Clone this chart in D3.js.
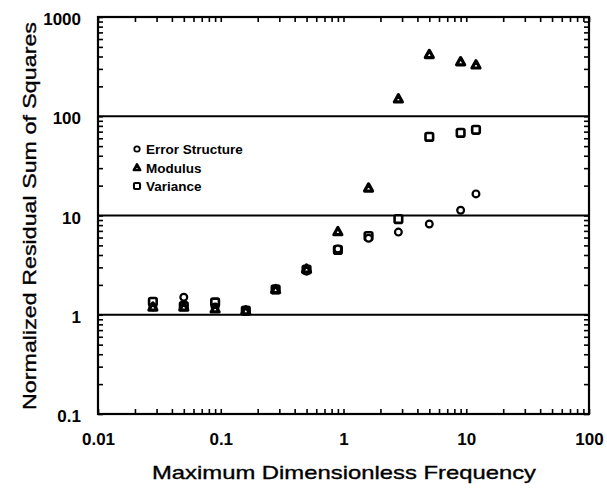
<!DOCTYPE html>
<html>
<head>
<meta charset="utf-8">
<script src="https://cdn.jsdelivr.net/npm/d3@7"></script>
<style>
    body { margin: 0; background: #fff; }
    svg { display: block; font-family: "Liberation Sans", Arial, sans-serif; }
</style>
</head>
<body>
<svg width="607" height="489"></svg>
<script>
// values
var frequency = [0.028, 0.05, 0.09, 0.16, 0.28, 0.5, 0.9, 1.6, 2.8, 5, 9, 12];
var errorStructure = [1.2, 1.5, 1.2, 1.1, 1.8, 2.75, 4.6, 5.9, 6.8, 8.2, 11.3, 16.5];
var modulus = [1.2, 1.2, 1.15, 1.1, 1.8, 2.9, 6.9, 19, 150, 420, 355, 330];
var variance = [1.35, 1.22, 1.33, 1.1, 1.8, 2.85, 4.5, 6.2, 9.2, 62, 68, 73];

var seriesNames = ["Error Structure", "Modulus", "Variance"];
var xTickValues = [0.01, 0.1, 1, 10, 100];
var yTickValues = [0.1, 1, 10, 100, 1000];
var gridValues = [1, 10, 100];

var plotLeft = 98, plotRight = 589, plotTop = 17, plotBottom = 414;

var xScale = d3.scaleLog([0.01, 100], [plotLeft, plotRight]);
var yScale = d3.scaleLog([0.1, 1000], [plotBottom, plotTop]);

var svg = d3.select("svg");

// horizontal grid lines at the decades
svg.append("g")
    .selectAll("line")
    .data(gridValues)
    .enter()
        .append("line")
        .attr("x1", plotLeft)
        .attr("x2", plotRight)
        .attr("y1", function(d) { return yScale(d); })
        .attr("y2", function(d) { return yScale(d); })
        .attr("stroke", "#000")
        .attr("stroke-width", 2.2);

// minor ticks on all four sides, pointing inward
function minorAxis(axis, transform) {
    var g = svg.append("g")
        .attr("transform", transform)
        .call(axis.tickSize(-5).tickFormat(""));
    g.select(".domain").remove();
    g.selectAll("line").attr("stroke", "#000").attr("stroke-width", 1.6);
}
minorAxis(d3.axisLeft(yScale).tickValues(yScale.ticks()), "translate(" + plotLeft + ",0)");
minorAxis(d3.axisRight(yScale).tickValues(yScale.ticks()), "translate(" + plotRight + ",0)");
minorAxis(d3.axisBottom(xScale).tickValues(xScale.ticks()), "translate(0," + plotBottom + ")");
minorAxis(d3.axisTop(xScale).tickValues(xScale.ticks()), "translate(0," + plotTop + ")");

// frame
svg.append("rect")
    .attr("x", plotLeft)
    .attr("y", plotTop)
    .attr("width", plotRight - plotLeft)
    .attr("height", plotBottom - plotTop)
    .attr("fill", "none")
    .attr("stroke", "#000")
    .attr("stroke-width", 2.2);

// tick labels
var yLabels = svg.append("g")
    .attr("transform", "translate(" + plotLeft + ",0)")
    .call(d3.axisLeft(yScale).tickValues(yTickValues).tickSize(0).tickPadding(17).tickFormat(d3.format("~g")));
var xLabels = svg.append("g")
    .attr("transform", "translate(0," + plotBottom + ")")
    .call(d3.axisBottom(xScale).tickValues(xTickValues).tickSize(0).tickPadding(19).tickFormat(d3.format("~g")));
[yLabels, xLabels].forEach(function(g) {
    g.select(".domain").remove();
    g.selectAll("text")
        .attr("fill", "#000")
        .style("font-family", "'Liberation Sans', Arial, sans-serif")
        .style("font-size", "17px")
        .style("font-weight", "bold");
});
yLabels.selectAll("text").attr("dy", "0.45em");

// axis titles
svg.append("text")
    .attr("transform", "translate(36," + ((22 + 410) / 2) + ") rotate(-90)")
    .attr("text-anchor", "middle")
    .attr("textLength", 388)
    .attr("lengthAdjust", "spacingAndGlyphs")
    .attr("stroke", "#000")
    .attr("stroke-width", 0.35)
    .style("font-size", "19px")
    .text("Normalized Residual Sum of Squares");

svg.append("text")
    .attr("x", 344)
    .attr("y", 479)
    .attr("text-anchor", "middle")
    .attr("textLength", 384)
    .attr("lengthAdjust", "spacingAndGlyphs")
    .attr("stroke", "#000")
    .attr("stroke-width", 0.35)
    .style("font-size", "19px")
    .text("Maximum Dimensionless Frequency");

// markers
function drawCircle(g) {
    g.append("circle").attr("r", 3.4)
        .attr("fill", "#fff").attr("stroke", "#000").attr("stroke-width", 2.2);
}
function drawTriangle(g) {
    g.append("path").attr("d", "M0,-4L4,3.2L-4,3.2Z")
        .attr("fill", "#fff").attr("stroke", "#000").attr("stroke-width", 3.2).attr("stroke-linejoin", "round");
}
function drawSquare(g) {
    g.append("rect").attr("x", -3.8).attr("y", -3.8).attr("width", 7.6).attr("height", 7.6).attr("rx", 1.5)
        .attr("fill", "#fff").attr("stroke", "#000").attr("stroke-width", 2.6);
}

function plotSeries(values, drawMarker) {
    svg.append("g")
        .selectAll("g")
        .data(values)
        .enter()
            .append("g")
            .attr("transform", function(d, i) {
                return "translate(" + xScale(frequency[i]) + "," + yScale(d) + ")";
            })
            .each(function() { drawMarker(d3.select(this)); });
}
plotSeries(variance, drawSquare);
plotSeries(errorStructure, drawCircle);
plotSeries(modulus, drawTriangle);

// legend
var markers = [drawCircle, drawTriangle, drawSquare];
var legend = svg.append("g").attr("transform", "translate(137,149)");
seriesNames.forEach(function(name, i) {
    var row = legend.append("g").attr("transform", "translate(0," + (i * 18.5) + ")");
    var m = row.append("g").attr("transform", "scale(0.8)");
    markers[i](m);
    row.append("text")
        .attr("x", 9)
        .attr("y", 5)
        .style("font-size", "13.5px")
        .style("font-weight", "bold")
        .text(name);
});
</script>
</body>
</html>
